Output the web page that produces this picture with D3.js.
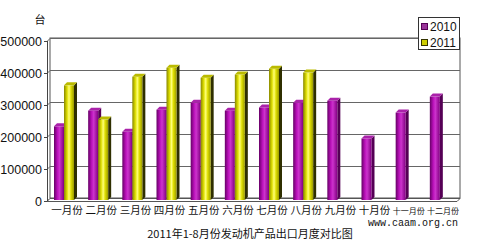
<!DOCTYPE html>
<html><head><meta charset="utf-8">
<script src="https://cdn.jsdelivr.net/npm/d3@7"></script>
<style>body{margin:0;background:#fff}svg{display:block}</style>
</head><body><svg id="c" width="480" height="243"></svg>
<script>
const months = ["一月份","二月份","三月份","四月份","五月份","六月份","七月份","八月份","九月份","十月份","十一月份","十二月份"];
const values2010 = [224000,273000,207000,276000,298000,273000,283000,298000,304000,186000,267000,317000];
const values2011 = [352000,245000,379000,407000,376000,386000,404000,392000];
const seriesNames = ["2010","2011"];
const yTicks = [0,100000,200000,300000,400000,500000];
const unitLabel = "台";
const title = "2011年1-8月份发动机产品出口月度对比图";
const source = "www.caam.org.cn";

const svg = d3.select("#c");
const D = 3; // 3D depth
const x = d3.scaleBand().domain(months).range([50,460]).paddingInner(0).paddingOuter(0);
const y = d3.scaleLinear().domain([0,500000]).range([198,38]);

const defs = svg.append("defs");
function grad(id, stops){
  const g = defs.append("linearGradient").attr("id",id).attr("x1","0").attr("x2","1").attr("y1","0").attr("y2","0");
  stops.forEach(s=>g.append("stop").attr("offset",s[0]).attr("stop-color",s[1]));
}
grad("gM",[[0,"#660066"],[0.35,"#bb11bb"],[0.55,"#cc33cc"],[1,"#800080"]]);
grad("gY",[[0,"#888800"],[0.3,"#dddd00"],[0.5,"#ffff77"],[0.7,"#dddd00"],[1,"#999900"]]);

// walls
svg.append("rect").attr("x",50).attr("y",y(500000)).attr("width",410).attr("height",y(0)-y(500000)).attr("fill","#fff").attr("stroke","#555").attr("stroke-width",1);
const grid = svg.append("g");
yTicks.forEach(t=>{
  grid.append("line").attr("x1",50).attr("x2",460).attr("y1",y(t)+0.5).attr("y2",y(t)+0.5).attr("stroke","#666");
  grid.append("line").attr("x1",47).attr("x2",50).attr("y1",y(t)+D+0.5).attr("y2",y(t)+0.5).attr("stroke","#666");
});
// floor
svg.append("path").attr("d",`M47,${y(0)+D+0.5} L457,${y(0)+D+0.5} L460,${y(0)+0.5} L50,${y(0)+0.5}Z`).attr("fill","#fff").attr("stroke","#555");
// front axis
svg.append("line").attr("x1",47.5).attr("x2",47.5).attr("y1",y(500000)+D).attr("y2",y(0)+D).attr("stroke","#444");
const ax = svg.append("g").attr("transform","translate(47,"+D+")").call(d3.axisLeft(y).tickValues(yTicks).tickSize(3).tickFormat(d3.format("d")));
ax.select(".domain").remove();
ax.selectAll("text").attr("font-family","Liberation Sans, Arial, sans-serif").attr("font-size","12.5px").attr("fill","#111").attr("dx","1");
ax.selectAll("line").attr("stroke","#444");

svg.append("text").attr("x",40).attr("y",24).attr("text-anchor","middle").attr("font-family","Noto Sans CJK SC").attr("font-size","11px").attr("fill","#111").text(unitLabel);

// bars
const bw = 10;
function drawBar(cx, v, fillId, sideCol, topCol){
  const x0 = cx, yt = y(v), yb = y(0)+D-1;
  const g = svg.append("g");
  g.append("path").attr("d",`M${x0+bw},${yt} L${x0+bw+D},${yt-D} L${x0+bw+D},${yb-D} L${x0+bw},${yb}Z`).attr("fill",sideCol);
  g.append("rect").attr("x",x0).attr("y",yt).attr("width",bw).attr("height",yb-yt).attr("fill",`url(#${fillId})`);
  g.append("path").attr("d",`M${x0},${yt} L${x0+D},${yt-D} L${x0+bw+D},${yt-D} L${x0+bw},${yt}Z`).attr("fill",topCol);
}
months.forEach((m,i)=>{
  const bx = x(m)+4;
  if(values2010[i]!=null) drawBar(bx, values2010[i], "gM", "#550055", "#aa22aa");
  if(values2011[i]!=null) drawBar(bx+bw, values2011[i], "gY", "#2f2f00", "#bbbb00");
});

// x labels
svg.append("g").selectAll("text").data(months).join("text")
  .attr("x",d=>x(d)+x.bandwidth()/2).attr("y",214).attr("text-anchor","middle")
  .attr("font-family","Noto Sans CJK SC").attr("font-size",d=>d.length>3?"8px":"10.5px").attr("fill","#111")
  .text(d=>d);

// legend
const lg = svg.append("g");
lg.append("rect").attr("x",418.5).attr("y",17.5).attr("width",41).attr("height",32).attr("fill","#fff").attr("stroke","#333");
[["#993399","#550055"],["#cccc00","#333300"]].forEach((c,i)=>{
  lg.append("rect").attr("x",421.5).attr("y",23.5+i*16).attr("width",6).attr("height",6).attr("fill",c[0]).attr("stroke",c[1]);
  lg.append("text").attr("x",430).attr("y",31+i*16).attr("font-family","Liberation Sans, Arial, sans-serif").attr("font-size","12px").attr("fill","#111").text(seriesNames[i]);
});

svg.append("text").attr("x",458).attr("y",226).attr("text-anchor","end").attr("font-family","Liberation Mono, Courier New, monospace").attr("font-size","10px").attr("fill","#111").text(source);
svg.append("text").attr("x",250).attr("y",238).attr("text-anchor","middle").attr("font-family","Noto Sans CJK SC").attr("font-size","11px").attr("fill","#111").text(title);
</script></body></html>
